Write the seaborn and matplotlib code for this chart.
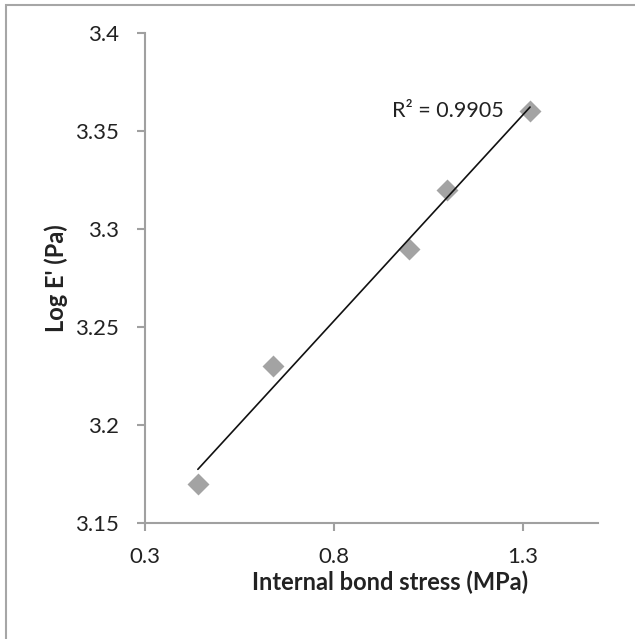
import numpy as np
import pandas as pd
import matplotlib
matplotlib.use("Agg")
import matplotlib.pyplot as plt
import seaborn as sns
from matplotlib.patches import Rectangle

# Data
ib_stress = [0.44, 0.64, 1.00, 1.10, 1.32]
log_e = [3.17, 3.23, 3.29, 3.32, 3.36]
x_ticks = [0.3, 0.8, 1.3]
x_tick_labels = ["0.3", "0.8", "1.3"]
y_ticks = [3.15, 3.2, 3.25, 3.3, 3.35, 3.4]
y_tick_labels = ["3.15", "3.2", "3.25", "3.3", "3.35", "3.4"]
r2_label = "R² = 0.9905"

df = pd.DataFrame({"x": ib_stress, "y": log_e})

sns.set_style("white")
plt.rcParams["font.family"] = ["Lato", "DejaVu Sans"]

fig = plt.figure(figsize=(6.35, 6.39), dpi=100)
fig.patches.append(Rectangle((6 / 635, -0.1), 1.2, 1 - 5 / 639 + 0.1, transform=fig.transFigure,
                             fill=False, edgecolor="#A6A6A6", linewidth=1.5))
ax = fig.add_axes([145 / 635, 1 - 523 / 639, 453 / 635, 490 / 639])

sns.regplot(data=df, x="x", y="y", ax=ax, ci=None, truncate=True, marker="D",
            scatter_kws=dict(s=125, color="#8C8C8C", linewidths=0, zorder=2),
            line_kws=dict(color="#111111", linewidth=1.2, zorder=3))

ax.set_xlim(0.3, 1.5)
ax.set_ylim(3.15, 3.4)
ax.set_xticks(x_ticks)
ax.set_xticklabels(x_tick_labels)
ax.set_yticks(y_ticks)
ax.set_yticklabels(y_tick_labels)

for s in ["top", "right"]:
    ax.spines[s].set_visible(False)
for s in ["left", "bottom"]:
    ax.spines[s].set_color("#A0A0A0")
    ax.spines[s].set_linewidth(1.5)

ax.tick_params(axis="both", which="major", length=6, width=1.5, color="#A0A0A0",
               labelsize=16, labelcolor="#222222", direction="out")
ax.tick_params(axis="y", pad=13, left=True)
ax.tick_params(axis="x", pad=11, bottom=True)

ax.set_xlabel("Internal bond stress (MPa)", fontsize=17, fontweight="bold", color="#222222")
ax.set_ylabel("Log E' (Pa)", fontsize=17, fontweight="bold", color="#222222")
ax.xaxis.set_label_coords((390 - 145) / 453, -(571 - 523) / 490)
ax.yaxis.set_label_coords(-(145 - 68) / 453, 0.5)

ax.text(0.953, 3.36, r2_label, fontsize=15.5, color="#222222", ha="left", va="center")

fig.savefig("out.png", dpi=100, facecolor="white")
